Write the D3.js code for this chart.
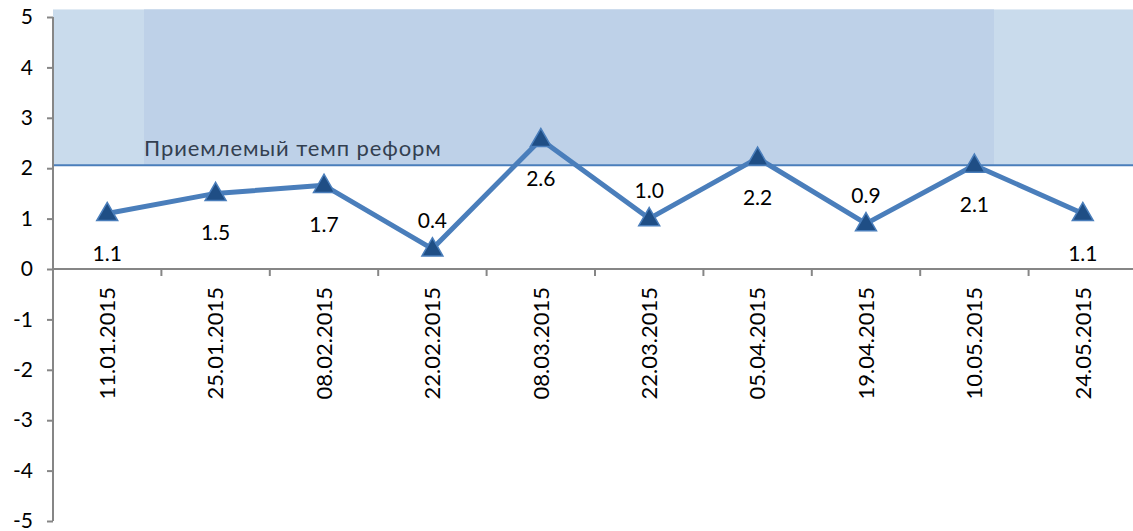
<!DOCTYPE html>
<html>
<head>
<meta charset="utf-8">
<script src="https://cdn.jsdelivr.net/npm/d3@7"></script>
<style>
body { margin: 0; background: #fff; }
svg { display: block; font-family: Lato, "Open Sans", sans-serif; }
</style>
</head>
<body>
<script>
var dates = ["11.01.2015", "25.01.2015", "08.02.2015", "22.02.2015", "08.03.2015",
	"22.03.2015", "05.04.2015", "19.04.2015", "10.05.2015", "24.05.2015"]
var values = [1.1, 1.5, 1.66, 0.4, 2.57, 1.0, 2.2, 0.9, 2.06, 1.1]
// label above (-1) or below (1) the point
var labelSide = [1, 1, 1, -1, 1, -1, 1, -1, 1, 1]
var yTicks = [-5, -4, -3, -2, -1, 0, 1, 2, 3, 4, 5]
var bandLow = 2.06
var bandHigh = 5.15
var bandName = "Приемлемый темп реформ"

var width = 1133, height = 531
var left = 53, plotRight = 1137

var svg = d3.select("body").append("svg")
	.attr("width", width)
	.attr("height", height)

var x = d3.scaleBand().domain(dates).range([left, plotRight])
var y = d3.scaleLinear().domain([-5, 5]).range([521, 17])

//shaded band of acceptable pace
svg.append("rect")
	.attr("x", left)
	.attr("y", y(bandHigh))
	.attr("width", width - left)
	.attr("height", y(bandLow) - y(bandHigh))
	.attr("fill", "#c9dbec")
svg.append("rect")
	.attr("x", 144)
	.attr("y", y(bandHigh))
	.attr("width", 850)
	.attr("height", y(bandLow) - y(bandHigh))
	.attr("fill", "#bed1e8")
svg.append("line")
	.attr("x1", left).attr("x2", width)
	.attr("y1", y(bandLow)).attr("y2", y(bandLow))
	.attr("stroke", "#4a7ebb")
	.attr("stroke-width", 2)
svg.append("text")
	.attr("x", 144)
	.attr("y", y(bandLow) - 9)
	.attr("font-size", 22)
	.attr("letter-spacing", 0.9)
	.attr("fill", "#333f50")
	.text(bandName)

//y axis
var yAxis = svg.append("g")
	.attr("transform", "translate(" + left + ",0)")
	.call(d3.axisLeft(y).tickValues(yTicks).tickSize(6).tickPadding(14).tickFormat(function(d) { return String(d) }))
yAxis.selectAll("path, line").attr("stroke", "#868686").attr("stroke-width", 2)
yAxis.select("path").attr("d", "M0," + y(-5) + "V" + y(5))
yAxis.selectAll("text").attr("font-size", 21).attr("fill", "#000").attr("font-family", "Lato, sans-serif")

//x axis on zero
var xAxis = svg.append("g")
	.attr("transform", "translate(0," + y(0) + ")")
	.call(d3.axisBottom(x).tickSize(0).tickPadding(0))
xAxis.select("path").attr("d", "M" + left + ",0H" + width).attr("stroke", "#868686").attr("stroke-width", 2)
xAxis.selectAll("text")
	.attr("transform", "rotate(-90)")
	.attr("x", -18)
	.attr("y", 0)
	.attr("dy", "0.35em")
	.attr("text-anchor", "end")
	.attr("font-size", 22)
	.attr("fill", "#000")
	.attr("font-family", "Lato, sans-serif")
svg.append("g").selectAll("line")
	.data(dates.slice(1))
	.enter()
	.append("line")
	.attr("x1", function(d) { return x(d) })
	.attr("x2", function(d) { return x(d) })
	.attr("y1", y(0))
	.attr("y2", y(0) + 7)
	.attr("stroke", "#868686")
	.attr("stroke-width", 2)

//series line
var line = d3.line()
	.x(function(d, i) { return x(dates[i]) + x.bandwidth() / 2 })
	.y(function(d) { return y(d) })
svg.append("path")
	.datum(values)
	.attr("d", line)
	.attr("fill", "none")
	.attr("stroke", "#4a7ebb")
	.attr("stroke-width", 5)
	.attr("stroke-linejoin", "round")

svg.append("g").selectAll("path")
	.data(values)
	.enter()
	.append("path")
	.attr("d", d3.symbol().type(d3.symbolTriangle).size(190))
	.attr("transform", function(d, i) {
		return "translate(" + (x(dates[i]) + x.bandwidth() / 2) + "," + (y(d) + 1) + ")"
	})
	.attr("fill", "#1f4e85")
	.attr("stroke", "#4a7ebb")
	.attr("stroke-width", 1.5)

svg.append("g").selectAll("text")
	.data(values)
	.enter()
	.append("text")
	.attr("x", function(d, i) { return x(dates[i]) + x.bandwidth() / 2 })
	.attr("y", function(d, i) { return labelSide[i] > 0 ? y(d) + 47 : y(d) - 21 })
	.attr("text-anchor", "middle")
	.attr("font-size", 21)
	.attr("fill", "#000")
	.text(function(d) { return d.toFixed(1) })
</script>
</body>
</html>
